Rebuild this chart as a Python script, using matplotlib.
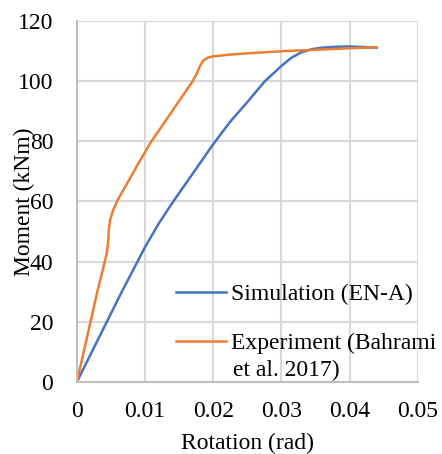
import matplotlib
matplotlib.use('Agg')
import matplotlib.pyplot as plt

# Simulation (EN-A)
sim_rot = [0, 0.0022, 0.0044, 0.0066, 0.0089, 0.0100, 0.0120, 0.0140, 0.0160, 0.0180,
           0.0200, 0.0225, 0.0250, 0.0276, 0.0300, 0.0315, 0.0330, 0.0345, 0.0360,
           0.0380, 0.0400, 0.0420, 0.0440]
sim_mom = [0, 10, 20, 30, 40, 44.8, 52.6, 59.5, 66, 72.5,
           79, 86.5, 93, 100, 105, 107.8, 109.6, 110.6, 111.1,
           111.4, 111.5, 111.3, 111.1]

# Experiment (Bahrami et al. 2017)
exp_rot = [0, 0.001, 0.002, 0.003, 0.0041, 0.0044, 0.0046, 0.0047, 0.0049, 0.0053,
           0.0060, 0.0070, 0.0080, 0.0090, 0.0108, 0.0125, 0.0150, 0.0170, 0.0176,
           0.0180, 0.0185, 0.0192, 0.0200, 0.0225, 0.0250, 0.0300, 0.0350, 0.0400, 0.0440]
exp_mom = [0, 10, 20, 30, 40, 43, 47, 51, 54, 57,
           60.5, 64.5, 68.5, 72.5, 79.5, 85.1, 93.4, 100, 102.5,
           104.8, 106.7, 107.8, 108.2, 108.8, 109.2, 109.9, 110.4, 110.9, 111.2]

plt.rcParams['font.family'] = ['Liberation Serif', 'DejaVu Serif']
fs = 17

fig = plt.figure(figsize=(4.42, 4.54), dpi=100)
ax = fig.add_axes([0.174, 0.159, 0.771, 0.795])

ax.plot(sim_rot, sim_mom, color='#4472C4', lw=1.8, label='Simulation (EN-A)')
ax.plot(exp_rot, exp_mom, color='#ED7D31', lw=1.8, label='Experiment (Bahrami')

ax.set_xlim(0, 0.05)
ax.set_ylim(0, 120)
ax.set_xticks([0, 0.01, 0.02, 0.03, 0.04, 0.05])
ax.set_xticklabels(['0', '0.01', '0.02', '0.03', '0.04', '0.05'])
ax.set_yticks(range(0, 121, 20))
ax.grid(True, color='#d9d9d9', lw=1.5)
ax.set_axisbelow(True)
for s in ['top', 'right']:
    ax.spines[s].set_visible(False)
for s in ['left', 'bottom']:
    ax.spines[s].set_color('#bfbfbf')
    ax.spines[s].set_linewidth(1.5)
ax.tick_params(axis='y', length=0, labelsize=fs, colors='black', pad=17)
ax.tick_params(axis='x', length=0, labelsize=fs, colors='black', pad=14)

ax.set_xlabel('Rotation (rad)', fontsize=fs, labelpad=7.5)
ax.set_ylabel('Moment (kNm)', fontsize=fs)
ax.yaxis.set_label_coords(-0.124, 0.5)

leg = ax.legend(loc='upper left', bbox_to_anchor=(0.29, 0.272), frameon=False,
                fontsize=fs, handlelength=2.15, handletextpad=0.2,
                borderpad=0, borderaxespad=0, labelspacing=1.15)
ax.text(0.459, 0.031, 'et al. 2017)', transform=ax.transAxes, fontsize=fs,
        ha='left', va='center', clip_on=False)

fig.savefig('out.png', dpi=100)
